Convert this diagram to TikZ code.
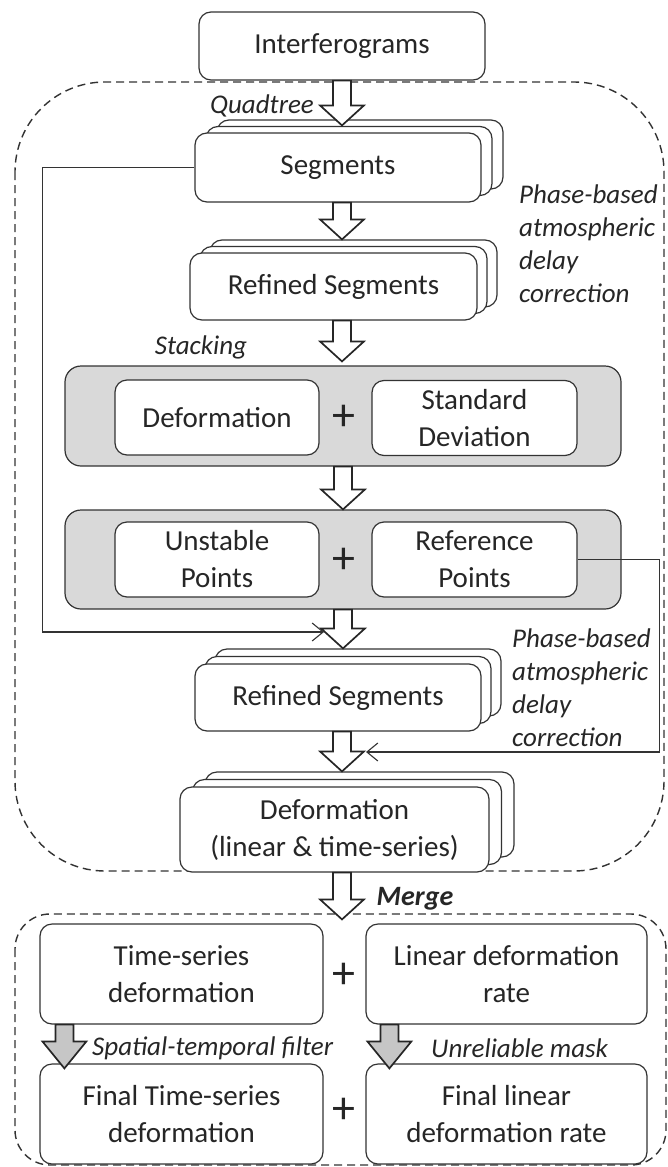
\documentclass[tikz,border=0pt]{standalone}
\usepackage{fontspec}
\setmainfont{Carlito}
\usetikzlibrary{calc,shadows,arrows.meta}
\newlength\headlen
\setlength\headlen{20pt}
\newcommand{\barr}[3][]{\draw[barrow,#1] let \p1=(#2), \p2=(#3) in (\x1-9pt,\y1) -- (\x1+9pt,\y1) -- (\x1+9pt,\y2+\headlen) -- (\x1+22pt,\y2+\headlen) -- (\x1,\y2) -- (\x1-22pt,\y2+\headlen) -- (\x1-9pt,\y2+\headlen) -- cycle;}
\begin{document}
\begin{tikzpicture}[x=1pt,y=-1pt,
  box/.style={draw=black!80, line width=1.2pt, rounded corners=12pt, fill=white, align=center, inner sep=0pt, text=black!85, font=\fontsize{29}{37}\selectfont},
  pnl/.style={draw=black!80, line width=1.2pt, rounded corners=16pt, fill=gray!30},
  stack/.style n args={4}{general shadow={fill=white, draw=black!80, line width=1.2pt, shadow xshift=#3, shadow yshift=#4}, general shadow={fill=white, draw=black!80, line width=1.2pt, shadow xshift=#1, shadow yshift=#2}},
  lbl/.style={inner sep=0pt, text=black!85, font=\fontsize{27}{33}\selectfont\itshape},
  pls/.style={inner sep=0pt, text=black!85, font=\fontsize{46}{46}\selectfont},
  barrow/.style={draw=black!85, line width=1.7pt, fill=white, line join=miter},
  fb/.style={draw=black!80, line width=1.1pt, -{Straight Barb[length=11pt,width=18pt,line width=1.1pt]}},
  dsh/.style={draw=black!80, line width=1.4pt, dash pattern=on 8pt off 5pt}]
\useasboundingbox (0,0) rectangle (668,1167);
\draw[dsh, rounded corners=90pt] (15,82) rectangle (664,871);
\draw[dsh, rounded corners=35pt] (15,914) rectangle (666,1165);
\node[box, minimum width=286pt, minimum height=68pt] (bx0) at (342,46) {Interferograms};
\node[box, stack={11pt}{6.5pt}{22pt}{13pt}, minimum width=286pt, minimum height=69pt] (seg) at (338,167.5) {Segments};
\node[box, stack={10pt}{6.5pt}{20pt}{13pt}, minimum width=287pt, minimum height=67pt] (ref1) at (333.5,286.5) {Refined Segments};
\node[pnl, minimum width=556pt, minimum height=100pt] (pan1) at (343,416) {};
\node[box, minimum width=204pt, minimum height=75pt] (dfm) at (217,417.5) {Deformation};
\node[box, minimum width=205pt, minimum height=75pt] (std) at (474.5,418) {Standard\\Deviation};
\node[pls] (pl1) at (344,418) {+};
\node[pnl, minimum width=556pt, minimum height=99pt] (pan2) at (343,559.5) {};
\node[box, minimum width=204pt, minimum height=75pt] (ust) at (217,559.5) {Unstable\\Points};
\node[box, minimum width=205pt, minimum height=75pt] (refp) at (474.5,559.5) {Reference\\Points};
\node[pls] (pl2) at (344,561) {+};
\node[box, stack={10pt}{7.5pt}{20pt}{15pt}, minimum width=286pt, minimum height=67pt] (ref2) at (338,697.5) {Refined Segments};
\node[box, stack={12.5pt}{7.5pt}{25pt}{15pt}, minimum width=309pt, minimum height=85pt] (dfl) at (334.5,829.5) {Deformation\\(linear \& time-series)};
\node[box, minimum width=283pt, minimum height=100pt] (tsd) at (181.5,974) {Time-series\\deformation};
\node[box, minimum width=281pt, minimum height=100pt] (ldr) at (506.5,974) {Linear deformation\\rate};
\node[pls] (pl3) at (344,976) {+};
\node[box, minimum width=283pt, minimum height=100pt] (fts) at (181.5,1114) {Final Time-series\\deformation};
\node[box, minimum width=281pt, minimum height=100pt] (fld) at (506.5,1114) {Final linear\\deformation rate};
\node[pls] (pl4) at (344,1111) {+};
\node[lbl] (quad) at (262,106) {Quadtree};
\node[lbl, align=left, anchor=north west] (phs1) at (519,185) {Phase-based\\atmospheric\\delay\\correction};
\node[lbl] (stk) at (201,347) {Stacking};
\node[lbl, align=left, anchor=north west] (phs2) at (512,629) {Phase-based\\atmospheric\\delay\\correction};
\node[lbl, font=\fontsize{28}{33}\selectfont\bfseries\itshape] (mrg) at (415,899) {Merge};
\node[lbl, anchor=west] (stf) at (92,1048) {Spatial-temporal filter};
\node[lbl, anchor=west] (unm) at (431,1048) {Unreliable mask};
\barr{bx0.south}{[yshift=7pt]seg.north}
\barr{seg.south -| bx0}{[yshift=13pt]ref1.north}
\barr{ref1.south -| bx0}{[yshift=4pt]pan1.north}
\barr{pan1.south}{pan2.north}
\barr{pan2.south}{[yshift=15pt]ref2.north}
\barr{ref2.south -| bx0}{[yshift=15pt]dfl.north}
\barr{dfl.south -| bx0}{[yshift=4pt]tsd.north}
\setlength\headlen{27pt}
\barr[fill=gray!45]{[xshift=25pt]tsd.south west}{[yshift=-5pt]fts.north}
\barr[fill=gray!45]{[xshift=24pt]ldr.south west}{[yshift=-5pt]fld.north}
\coordinate (fbL) at (324,632);
\coordinate (fbR) at (366,752);
\draw[fb] (seg.west) -- ++(-152,0) |- (fbL);
\draw[fb] (refp.east) -- ++(82,0) |- (fbR);
\end{tikzpicture}
\end{document}
